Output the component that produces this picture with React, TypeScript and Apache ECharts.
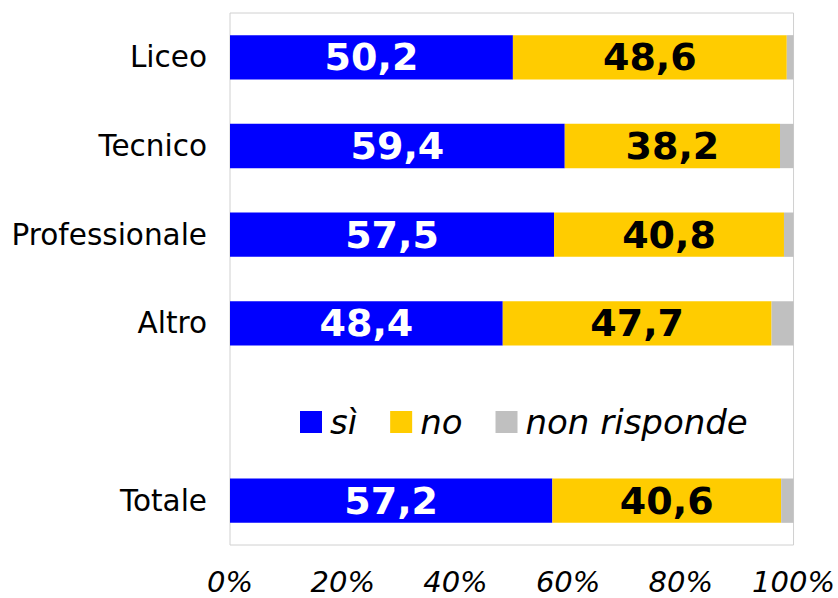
import React, { useEffect, useRef } from "react";
import * as echarts from "echarts";

const categories = ["Liceo", "Tecnico", "Professionale", "Altro", "", "Totale"];
const si = [50.2, 59.4, 57.5, 48.4, null, 57.2];
const no = [48.6, 38.2, 40.8, 47.7, null, 40.6];
const nonRisponde = [1.2, 2.4, 1.7, 3.9, null, 2.2];
const xTicks = [0, 20, 40, 60, 80, 100];

const FONT = "DejaVu Sans";

export default function App() {
  const ref = useRef<HTMLDivElement>(null);
  useEffect(() => {
    if (!ref.current) return;
    const chart = echarts.init(ref.current, null, { renderer: "svg" });
    const fmt = (p: any) => (p.value == null ? "" : String(p.value).replace(".", ","));
    chart.setOption({
      animation: false,
      backgroundColor: "#ffffff",
      textStyle: { fontFamily: FONT },
      grid: {
        left: 230,
        right: 40,
        top: 13,
        bottom: 53,
        show: true,
        borderColor: "#d0d0d0",
        borderWidth: 1,
        backgroundColor: "transparent",
      },
      legend: {
        left: 295,
        top: 400,
        itemWidth: 22,
        itemHeight: 22,
        itemGap: 33,
        icon: "rect",
        textStyle: {
          fontFamily: FONT,
          fontSize: 34,
          fontStyle: "italic",
          color: "#000",
          padding: [0, 0, 0, 3],
        },
        data: ["sì", "no", "non risponde"],
      },
      xAxis: {
        type: "value",
        min: xTicks[0],
        max: xTicks[xTicks.length - 1],
        interval: 20,
        axisLine: { show: false },
        axisTick: { show: false },
        splitLine: { show: false },
        axisLabel: {
          formatter: "{value}%",
          fontFamily: FONT,
          fontSize: 29,
          fontStyle: "italic",
          color: "#000",
          margin: 22,
        },
      },
      yAxis: {
        type: "category",
        inverse: true,
        data: categories,
        axisLine: { show: false },
        axisTick: { show: false },
        axisLabel: {
          fontFamily: FONT,
          fontSize: 29.5,
          color: "#000",
          margin: 23,
        },
      },
      series: [
        {
          name: "sì",
          type: "bar",
          stack: "t",
          barWidth: "50%",
          data: si,
          itemStyle: { color: "#0000ff" },
          label: {
            show: true,
            position: "inside",
            formatter: fmt,
            color: "#ffffff",
            fontFamily: FONT,
            fontWeight: "bold",
            fontSize: 38,
          },
        },
        {
          name: "no",
          type: "bar",
          stack: "t",
          data: no,
          itemStyle: { color: "#ffcc00" },
          label: {
            show: true,
            position: "inside",
            formatter: fmt,
            color: "#000000",
            fontFamily: FONT,
            fontWeight: "bold",
            fontSize: 38,
          },
        },
        {
          name: "non risponde",
          type: "bar",
          stack: "t",
          data: nonRisponde,
          itemStyle: { color: "#c0c0c0" },
          label: { show: false },
        },
      ],
    });
    return () => chart.dispose();
  }, []);
  return <div ref={ref} style={{ width: 838, height: 598, position: "absolute", left: 0, top: 0 }} />;
}
